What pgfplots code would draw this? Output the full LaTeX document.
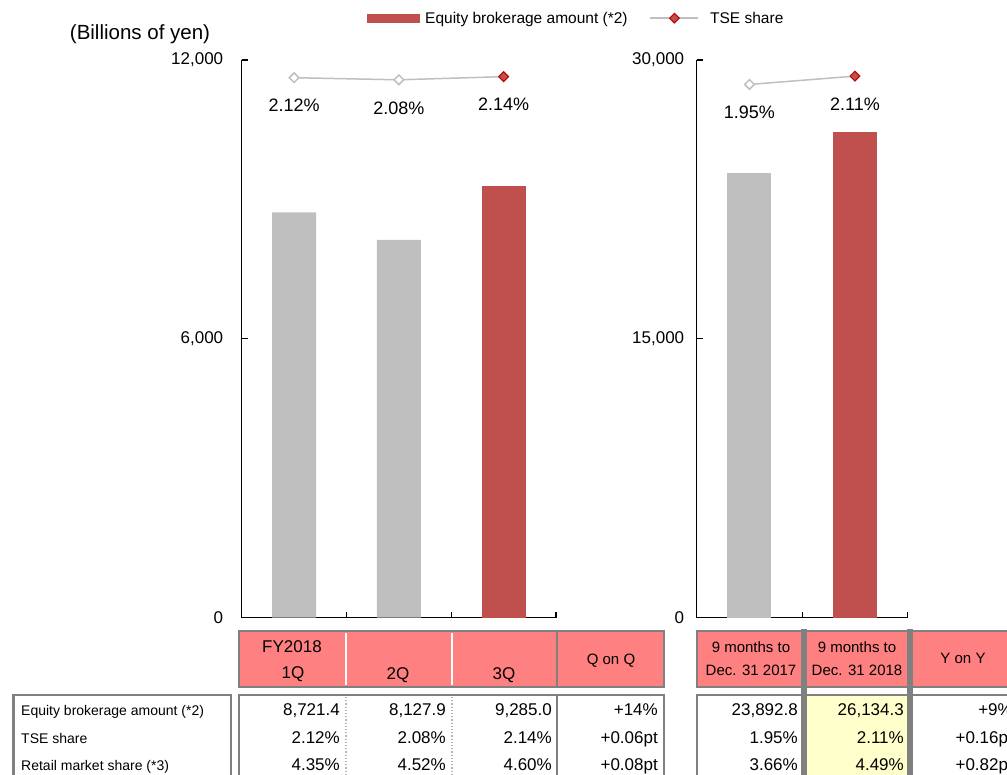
\documentclass[border=0pt]{standalone}
\usepackage{pgfplots}
\pgfplotsset{compat=1.18}
\usepackage{fontspec}
\setmainfont{Liberation Sans}
\definecolor{barred}{HTML}{C0504D}
\definecolor{bargray}{HTML}{BFBFBF}
\definecolor{hdrpink}{HTML}{FF8080}
\definecolor{brd}{HTML}{808080}
\definecolor{yel}{HTML}{FFFFCC}
\definecolor{mkred}{HTML}{C00000}
\newcommand\fs[1]{\fontsize{#1}{#1}\selectfont}
\pgfplotsset{
  baraxis/.style={
    scale only axis, height=557.5pt,
    ymin=0,
    axis x line*=bottom, axis y line*=left,
    axis line style={black, line width=1.2pt, -},
    tick align=inside, major tick length=6pt,
    tick style={black, line width=1.2pt},
    xticklabels={},
    yticklabel style={font=\fs{17}},
    /pgf/number format/assume math mode=true,
    /pgf/number format/1000 sep={,},
    scaled y ticks=false,
    bar width=44pt,
  },
  lineaxis/.style={
    scale only axis, height=557.5pt, hide axis, clip=false,
    /pgf/number format/assume math mode=true,
  },
  tseline/.style={bargray, line width=1.5pt, mark=square*, mark size=3.4pt,
    mark options={rotate=45, fill=white, draw=bargray, line width=1.5pt},
    point meta=y, nodes near coords={\pgfmathprintnumber[fixed, fixed zerofill, precision=2]{\pgfplotspointmeta}\%},
    every node near coord/.style={font=\fs{18}, text=black, anchor=center, yshift=-28pt}},
  tsered/.style={only marks, mark=square*, mark size=3.4pt,
    mark options={rotate=45, fill=barred, draw=mkred, line width=1pt}},
  tseleg/.style={legend image code/.code={\draw[##1, mark repeat=2, mark phase=2] plot coordinates {(0pt,0pt) (24pt,0pt) (48pt,0pt)}; \path (54pt,0pt);}},
  barleg/.style={legend image code/.code={\fill[barred] (0pt,-4.5pt) rectangle (53pt,4.5pt);}},
}
\begin{document}
\begin{tikzpicture}[x=1pt,y=-1pt]
\path[use as bounding box] (0,0) rectangle (1007,774);
\begin{scope}
\clip (0,0) rectangle (1007,774);
% ---------- table ----------
\draw[brd, line width=2.5pt] (13.3,695) rectangle (231,800);
\fill[hdrpink] (239,631) rectangle (664,687);
\draw[white, line width=2pt] (346,633) -- (346,685) (452,633) -- (452,685);
\draw[brd, line width=2.5pt] (239,631) rectangle (664,687);
\draw[brd, line width=2.5pt] (557,631) -- (557,687);
\draw[brd, line width=2.5pt] (239,695) rectangle (664,800);
\draw[brd!60, dotted, line width=1.2pt] (346,697) -- (346,800) (452,697) -- (452,800);
\draw[brd, line width=2.5pt] (557,695) -- (557,800);
\fill[hdrpink] (697,631) rectangle (1015,687);
\fill[yel] (804,695) rectangle (910,800);
\draw[brd, line width=2.5pt] (697,631) rectangle (1015,687);
\draw[brd, line width=2.5pt] (697,695) rectangle (1015,800);
\draw[brd, line width=6pt] (804,629) -- (804,800) (910,629) -- (910,800);
\node[font=\fs{17}, anchor=base] at (292,652) {FY2018};
\node[font=\fs{17}, anchor=base] at (293,678.5) {1Q};
\node[font=\fs{17}, anchor=base] at (398,679) {2Q};
\node[font=\fs{17}, anchor=base] at (504,679) {3Q};
\node[font=\fs{15}, anchor=base] at (611,664.5) {Q on Q};
\node[font=\fs{15}, anchor=base] at (751,652) {9 months to};
\node[font=\fs{15}, anchor=base] at (751,675.5) {Dec. 31 2017};
\node[font=\fs{15}, anchor=base] at (857,652) {9 months to};
\node[font=\fs{15}, anchor=base] at (857,675.5) {Dec. 31 2018};
\node[font=\fs{15}, anchor=base] at (963,663.5) {Y on Y};
\node[font=\fs{14}, anchor=base west, inner sep=0pt] at (21,715) {Equity brokerage amount (*2)};
\node[font=\fs{14}, anchor=base west, inner sep=0pt] at (21,743) {TSE share};
\node[font=\fs{14}, anchor=base west, inner sep=0pt] at (21,770) {Retail market share (*3)};
\foreach \xx/\ya/\yb/\yc in {340/{8,721.4}/{2.12\%}/{4.35\%}, 446/{8,127.9}/{2.08\%}/{4.52\%}, 552/{9,285.0}/{2.14\%}/{4.60\%}, 658/{+14\%}/{+0.06pt}/{+0.08pt}, 798/{23,892.8}/{1.95\%}/{3.66\%}, 904/{26,134.3}/{2.11\%}/{4.49\%}, 1013/{+9\%}/{+0.16pt}/{+0.82pt}}{
  \node[font=\fs{17}, anchor=base east, inner sep=0pt] at (\xx,715) {\ya};
  \node[font=\fs{17}, anchor=base east, inner sep=0pt] at (\xx,743.5) {\yb};
  \node[font=\fs{17}, anchor=base east, inner sep=0pt] at (\xx,770.5) {\yc};
}
\end{scope}
\node[font=\fs{20.5}] at (140,34) {(Billions of yen)};
% ---------- left chart ----------
\begin{axis}[baraxis, at={(241.7pt,-617.5pt)}, anchor=south west, width=314.3pt,
  xmin=0.5, xmax=3.5, ymax=12000, xtick={0.5,1.5,2.5,3.5}, ytick={0,6000,12000},
  yticklabel style={xshift=-15pt},
  legend columns=2, legend cell align=left,
  legend style={at={(0.3987,1.075)}, anchor=west, draw=none, fill=none, font=\fs{15.5},
    inner sep=0pt, nodes={inner xsep=5pt, inner ysep=0pt},
    /tikz/every even column/.append style={column sep=17pt}}]
\addplot[ybar, bar shift=0pt, fill=bargray, draw=none, forget plot] coordinates {(1,8721.4) (2,8127.9)};
\addplot[ybar, bar shift=0pt, fill=barred, draw=none, barleg] coordinates {(3,9285.0)};
\addlegendentry{Equity brokerage amount (*2)}
\addlegendimage{bargray, line width=1.5pt, mark=square*, mark size=3.4pt,
    mark options={rotate=45, fill=barred, draw=mkred, line width=1pt}, tseleg}
\addlegendentry{TSE share}
\end{axis}
\begin{axis}[lineaxis, at={(241.7pt,-617.5pt)}, anchor=south west, width=314.3pt,
  xmin=0.5, xmax=3.5, ymin=-8.065, ymax=2.454]
\addplot[tseline] coordinates {(1,2.12) (2,2.08) (3,2.14)};
\addplot[tsered] coordinates {(3,2.14)};
\end{axis}
% ---------- right chart ----------
\begin{axis}[baraxis, at={(696.7pt,-617.5pt)}, anchor=south west, width=211pt,
  xmin=0.5, xmax=2.5, ymax=30000, xtick={0.5,1.5,2.5}, ytick={0,15000,30000},
  yticklabel style={xshift=-9pt}]
\addplot[ybar, bar shift=0pt, fill=bargray, draw=none] coordinates {(1,23892.8)};
\addplot[ybar, bar shift=0pt, fill=barred, draw=none] coordinates {(2,26134.3)};
\end{axis}
\begin{axis}[lineaxis, at={(696.7pt,-617.5pt)}, anchor=south west, width=211pt,
  xmin=0.5, xmax=2.5, ymin=-8.30, ymax=2.42]
\addplot[tseline] coordinates {(1,1.95) (2,2.11)};
\addplot[tsered] coordinates {(2,2.11)};
\end{axis}
\end{tikzpicture}
\end{document}
